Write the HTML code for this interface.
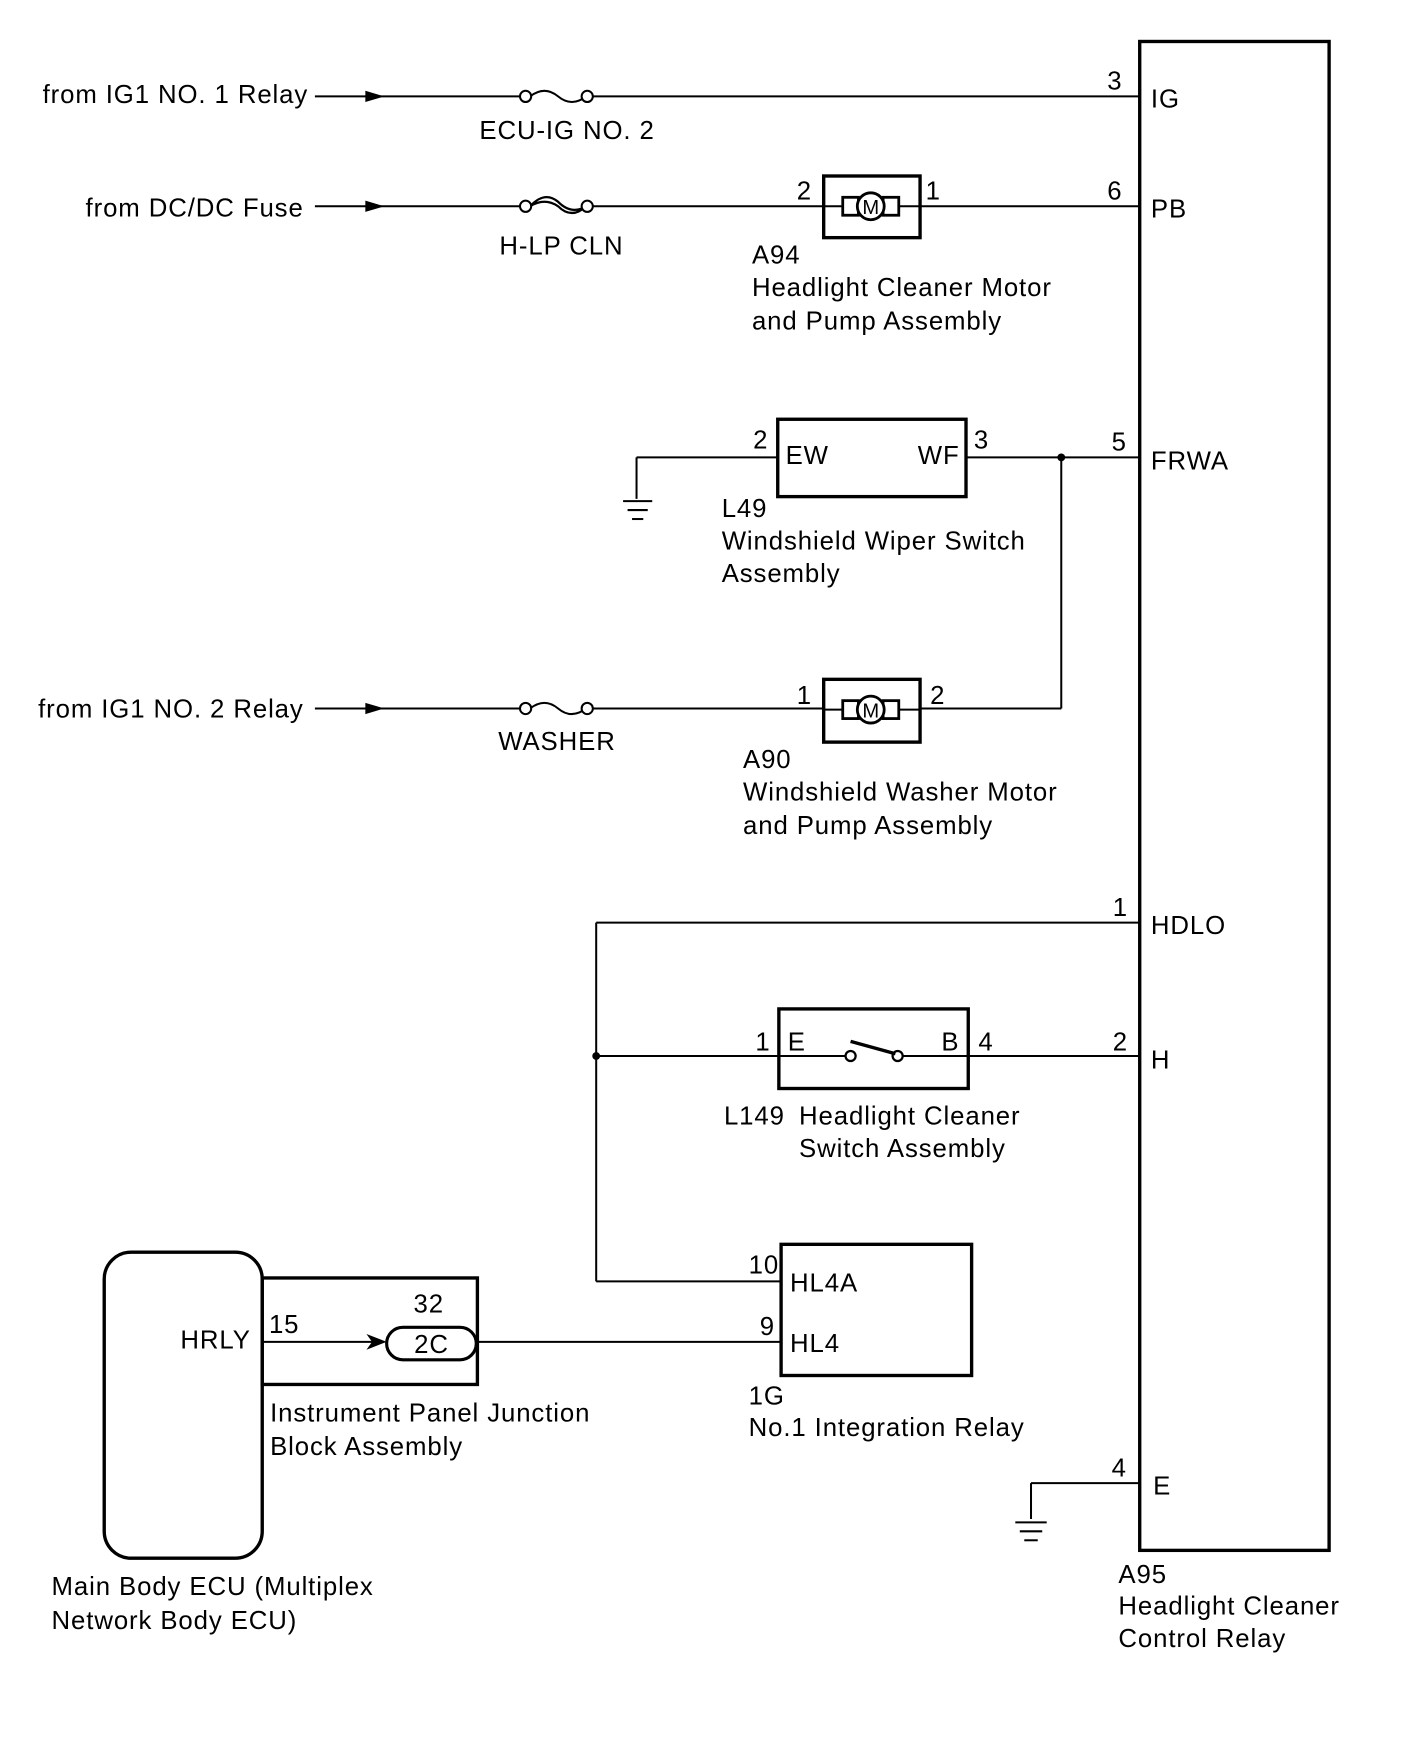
<!DOCTYPE html>
<html><head><meta charset="utf-8"><style>html,body{margin:0;padding:0;background:#fff}svg{display:block}</style></head>
<body>
<svg width="1421" height="1760" viewBox="0 0 1268 1570" preserveAspectRatio="none" xmlns="http://www.w3.org/2000/svg" font-family="Liberation Sans, Arial, sans-serif" font-size="23" letter-spacing="0.8" fill="#000">
<g stroke="#000" stroke-width="1.8" fill="none">
<rect x="1017" y="37" width="169" height="1346" stroke-width="3"/>
<line x1="281" y1="86" x2="469" y2="86"/><line x1="528" y1="86" x2="1017" y2="86"/>
<path d="M473 86 Q486 76 498 86 Q510 96 523 86"/>
<line x1="281" y1="184" x2="469" y2="184"/><line x1="528" y1="184" x2="735" y2="184"/><line x1="821" y1="184" x2="1017" y2="184"/>
<path d="M473 184 Q486 170 498 180 Q510 192 523 184 M473 184 Q486 176 498 184 Q510 196 523 184" stroke-width="2"/>
<rect x="735" y="157" width="86" height="55" stroke-width="3"/>
<line x1="735" y1="184" x2="821" y2="184"/>
<rect x="752" y="176" width="14" height="16" stroke-width="2.5" fill="#fff"/>
<rect x="788" y="176" width="14" height="16" stroke-width="2.5" fill="#fff"/>
<circle cx="777" cy="184" r="12" stroke-width="2.5" fill="#fff"/>
<line x1="568" y1="408" x2="694" y2="408"/><line x1="568" y1="408" x2="568" y2="445"/>
<line x1="556" y1="447" x2="582" y2="447"/><line x1="560" y1="455" x2="578" y2="455"/><line x1="564" y1="463" x2="574" y2="463"/>
<rect x="694" y="374" width="168" height="69" stroke-width="3"/>
<line x1="862" y1="408" x2="1017" y2="408"/>
<line x1="947" y1="408" x2="947" y2="632"/>
<line x1="281" y1="632" x2="469" y2="632"/><line x1="528" y1="632" x2="735" y2="632"/><line x1="821" y1="632" x2="947" y2="632"/>
<path d="M473 632 Q486 622 498 632 Q510 642 523 632"/>
<rect x="735" y="606" width="86" height="56" stroke-width="3"/>
<line x1="735" y1="633" x2="821" y2="633"/>
<rect x="752" y="625" width="14" height="16" stroke-width="2.5" fill="#fff"/>
<rect x="788" y="625" width="14" height="16" stroke-width="2.5" fill="#fff"/>
<circle cx="777" cy="633" r="12" stroke-width="2.5" fill="#fff"/>
<line x1="532" y1="823" x2="1017" y2="823"/><line x1="532" y1="823" x2="532" y2="1143"/>
<line x1="532" y1="942" x2="755" y2="942"/><line x1="806" y1="942" x2="1017" y2="942"/>
<rect x="695" y="900" width="169" height="71" stroke-width="3"/>
<circle cx="759" cy="942" r="4.5" stroke-width="2" fill="#fff"/><circle cx="801" cy="942" r="4.5" stroke-width="2" fill="#fff"/>
<line x1="759" y1="929" x2="799" y2="940" stroke-width="3"/>
<rect x="697" y="1110" width="170" height="117" stroke-width="3"/>
<line x1="532" y1="1143" x2="697" y2="1143"/>
<line x1="426" y1="1197" x2="697" y2="1197"/>
<rect x="93" y="1117" width="141" height="273" rx="24" stroke-width="3"/>
<rect x="234" y="1140" width="192" height="95" stroke-width="3"/>
<line x1="234" y1="1197" x2="335" y2="1197"/>
<rect x="345" y="1184" width="80" height="29" rx="14.5" stroke-width="2.8"/>
<line x1="920" y1="1323" x2="1017" y2="1323"/><line x1="920" y1="1323" x2="920" y2="1355"/>
<line x1="906" y1="1358" x2="934" y2="1358"/><line x1="910" y1="1366" x2="930" y2="1366"/><line x1="914" y1="1374" x2="926" y2="1374"/>
</g>
<g stroke="none">
<circle cx="469" cy="86" r="5" fill="#fff" stroke="#000" stroke-width="1.8"/><circle cx="524" cy="86" r="5" fill="#fff" stroke="#000" stroke-width="1.8"/>
<circle cx="469" cy="184" r="5" fill="#fff" stroke="#000" stroke-width="1.8"/><circle cx="524" cy="184" r="5" fill="#fff" stroke="#000" stroke-width="1.8"/>
<circle cx="469" cy="632" r="5" fill="#fff" stroke="#000" stroke-width="1.8"/><circle cx="524" cy="632" r="5" fill="#fff" stroke="#000" stroke-width="1.8"/>
<polygon points="326,81 343,86 326,91"/><polygon points="326,179 343,184 326,189"/><polygon points="326,627 343,632 326,637"/>
<polygon points="327,1190 345,1197 327,1204 332,1197"/>
<circle cx="947" cy="408" r="3.5"/><circle cx="532" cy="942" r="3.5"/>
</g>
<text x="777" y="191" font-size="18" letter-spacing="0" text-anchor="middle">M</text>
<text x="777" y="640" font-size="18" letter-spacing="0" text-anchor="middle">M</text>
<g>
<text x="275" y="92" text-anchor="end">from IG1 NO. 1 Relay</text>
<text x="271" y="193" text-anchor="end">from DC/DC Fuse</text>
<text x="271" y="640" text-anchor="end">from IG1 NO. 2 Relay</text>
<text x="506" y="124" text-anchor="middle">ECU-IG NO. 2</text>
<text x="501" y="227" text-anchor="middle">H-LP CLN</text>
<text x="497" y="669" text-anchor="middle">WASHER</text>
<text x="988" y="80">3</text><text x="1027" y="96">IG</text>
<text x="711" y="178">2</text><text x="826" y="178">1</text><text x="988" y="178">6</text><text x="1027" y="194">PB</text>
<text x="671" y="235">A94</text><text x="671" y="264">Headlight Cleaner Motor</text><text x="671" y="294">and Pump Assembly</text>
<text x="672" y="400">2</text><text x="869" y="400">3</text><text x="992" y="402">5</text><text x="1027" y="419">FRWA</text>
<text x="701" y="414">EW</text><text x="819" y="414">WF</text>
<text x="644" y="461">L49</text><text x="644" y="490">Windshield Wiper Switch</text><text x="644" y="519">Assembly</text>
<text x="711" y="628">1</text><text x="830" y="628">2</text>
<text x="663" y="685">A90</text><text x="663" y="714">Windshield Washer Motor</text><text x="663" y="744">and Pump Assembly</text>
<text x="993" y="817">1</text><text x="1027" y="833">HDLO</text>
<text x="674" y="937">1</text><text x="703" y="937">E</text><text x="840" y="937">B</text><text x="873" y="937">4</text><text x="993" y="937">2</text><text x="1027" y="953">H</text>
<text x="646" y="1003">L149</text><text x="713" y="1003">Headlight Cleaner</text><text x="713" y="1032">Switch Assembly</text>
<text x="668" y="1136">10</text><text x="678" y="1191">9</text>
<text x="705" y="1152">HL4A</text><text x="705" y="1206">HL4</text>
<text x="668" y="1253">1G</text><text x="668" y="1281">No.1 Integration Relay</text>
<text x="161" y="1203">HRLY</text><text x="240" y="1189">15</text><text x="369" y="1171">32</text>
<text x="385" y="1207" text-anchor="middle">2C</text>
<text x="241" y="1268">Instrument Panel Junction</text><text x="241" y="1298">Block Assembly</text>
<text x="46" y="1423">Main Body ECU (Multiplex</text><text x="46" y="1453">Network Body ECU)</text>
<text x="992" y="1317">4</text><text x="1029" y="1333">E</text>
<text x="998" y="1412">A95</text><text x="998" y="1440">Headlight Cleaner</text><text x="998" y="1469">Control Relay</text>
</g>
</svg>
</body></html>
